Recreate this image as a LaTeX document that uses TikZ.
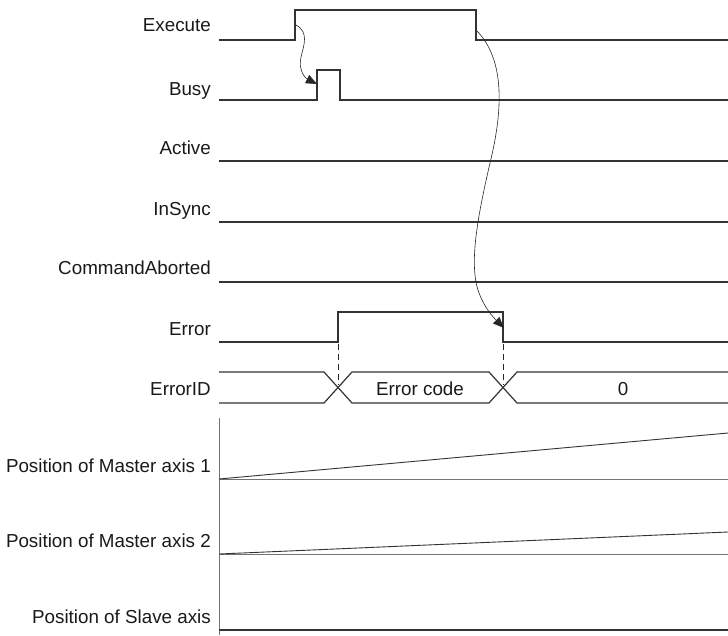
\documentclass[tikz,border=0pt]{standalone}
\usepackage{fontspec}
\setmainfont{Liberation Sans}
\usetikzlibrary{arrows.meta}
\begin{document}
\begin{tikzpicture}[x=1pt,y=-1pt,
  sig/.style={draw=black!80,line width=1.2pt},
  axisline/.style={draw=black!55,line width=1pt},
  lbl/.style={anchor=base east,inner sep=0pt,font=\fontsize{18.8}{22}\selectfont,text=black!90},
  val/.style={anchor=base,inner sep=0pt,font=\fontsize{18.8}{22}\selectfont,text=black!90},
  cause/.style={draw=black!85,line width=0.6pt,-{Triangle[length=11pt,width=9pt]}},
  guide/.style={draw=black!85,line width=0.9pt,dash pattern=on 6pt off 4pt}]
\useasboundingbox (0,0) rectangle (728,635);
% labels
\node[lbl] (lExec) at (211,31) {Execute};
\node[lbl] (lBusy) at (211,95) {Busy};
\node[lbl] (lAct) at (211,154) {Active};
\node[lbl] (lSync) at (211,215) {InSync};
\node[lbl] (lAbort) at (211,274) {CommandAborted};
\node[lbl] (lErr) at (211,335) {Error};
\node[lbl] (lID) at (211,395) {ErrorID};
\node[lbl] (lM1) at (211,472) {Position of Master axis 1};
\node[lbl] (lM2) at (211,547) {Position of Master axis 2};
\node[lbl] (lSl) at (211,623) {Position of Slave axis};
% edge coordinates
\coordinate (exRise) at (296,25);
\coordinate (exFall) at (477,31);
\coordinate (bsRise) at (317,84);
\coordinate (erFall) at (504,328);
% Execute
\draw[sig] (219,40) -- (295,40) -- (295,10) -- (476,10) -- (476,40) -- (728,40);
% Busy
\draw[sig] (219,100) -- (317,100) -- (317,70) -- (340,70) -- (340,100) -- (728,100);
% Active, InSync, CommandAborted
\draw[sig] (219,161) -- (728,161);
\draw[sig] (219,222) -- (728,222);
\draw[sig] (219,282) -- (728,282);
% Error
\draw[sig] (219,342) -- (338,342) -- (338,312) -- (503,312) -- (503,342) -- (728,342);
% ErrorID bus
\draw[sig] (219,372) -- (324,372) -- (352,403) -- (489,403) -- (517,372) -- (728,372);
\draw[sig] (219,403) -- (324,403) -- (352,372) -- (489,372) -- (517,403) -- (728,403);
\node[val] (vErr) at (420,395) {Error code};
\node[val] (vZero) at (623,395) {0};
% guides
\draw[guide] (338,344) -- (338,385);
\draw[guide] (503,344) -- (503,385);
% position axes
\draw[axisline] (219,418) -- (219,635);
\draw[axisline] (219,479) -- (728,479);
\draw[axisline] (219,554) -- (728,554);
\draw[sig] (219,630) -- (728,630);
\draw[sig,line width=0.9pt] (219,479) -- (728,433);
\draw[sig,line width=0.9pt] (219,554) -- (728,532);
% cause arrows
\draw[cause] (exRise) .. controls (309,32) and (304,45) .. (301,57) .. controls (298,70) and (305,78) .. (bsRise);
\draw[cause] (exFall) .. controls (505,60) and (503,110) .. (490,163) .. controls (478,215) and (469,262) .. (478,290) .. controls (484,308) and (494,318) .. (erFall);
\end{tikzpicture}
\end{document}
